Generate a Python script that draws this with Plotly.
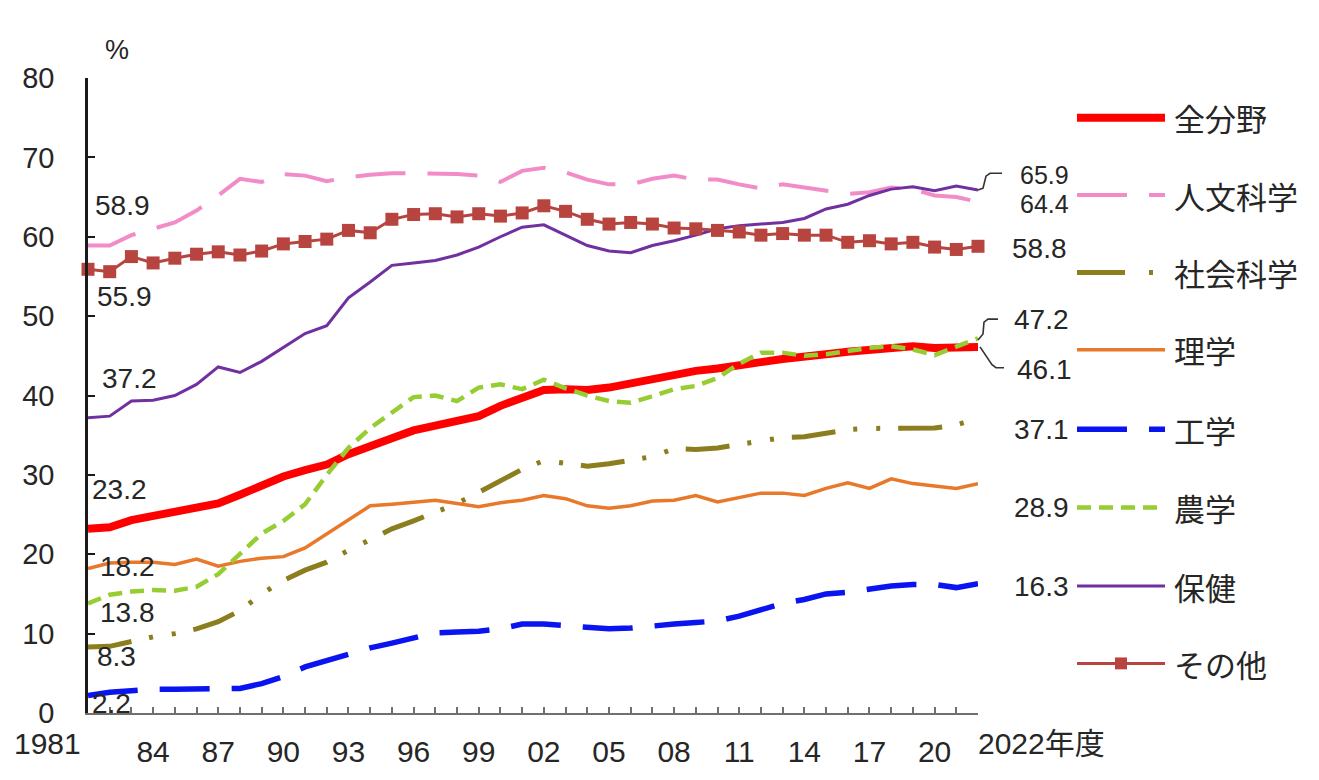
import plotly.graph_objects as go

# ---------------- data ----------------
years = list(range(1981, 2023))

all_fields = [23.2, 23.4, 24.3, 24.8, 25.2, 25.7, 26.4, 27.5, 28.7, 29.8,
              30.6, 31.3, 32.6, 33.7, 34.6, 35.6, 36.2, 36.7, 37.4, 38.7,
              39.8, 40.7, 40.8, 40.7, 41.0, 41.5, 42.2, 42.6, 43.1, 43.4,
              43.9, 44.2, 44.6, 44.8, 45.2, 45.5, 45.8, 46.0, 46.2, 46.0,
              46.1, 46.1]
humanities = [58.9, 58.9, 60.2, 61.0, 61.8, 63.3, 65.2, 67.3, 66.9, 67.9,
              67.7, 67.0, 67.5, 67.8, 68.0, 68.0, 68.0, 67.9, 67.7, 66.9,
              68.3, 68.7, 68.1, 67.2, 66.6, 66.6, 67.3, 67.7, 67.2, 67.2,
              66.6, 66.1, 66.6, 66.2, 65.7, 65.4, 65.6, 66.2, 66.0, 65.2,
              65.0, 64.4]
social = [8.3, 8.4, 9.0, 9.6, 10.0, 10.6, 11.5, 12.9, 15.0, 16.7,
          18.0, 19.0, 20.5, 21.9, 23.2, 24.2, 25.3, 26.4, 27.8, 29.2,
          30.7, 31.8, 31.4, 31.1, 31.4, 31.8, 32.3, 33.3, 33.2, 33.4,
          33.8, 34.2, 34.7, 34.8, 35.2, 35.7, 35.85, 35.9, 36.0, 35.9,
          36.3, 37.1]
science = [18.2, 18.9, 19.0, 19.0, 18.7, 19.4, 18.5, 19.1, 19.5, 19.7,
           20.8, 22.6, 24.3, 26.1, 26.3, 26.5, 26.8, 26.4, 26.0, 26.5,
           26.8, 27.4, 27.0, 26.1, 25.8, 26.1, 26.7, 26.8, 27.4, 26.6,
           27.2, 27.7, 27.7, 27.4, 28.3, 29.0, 28.3, 29.5, 28.9, 28.6,
           28.3, 28.9]
engineering = [2.2, 2.6, 2.8, 3.0, 3.0, 3.0, 3.0, 3.1, 3.7, 4.6,
               5.8, 6.6, 7.3, 8.2, 8.8, 9.4, 10.1, 10.2, 10.3, 10.6,
               11.2, 11.2, 11.0, 10.8, 10.6, 10.7, 11.0, 11.2, 11.4, 11.6,
               12.2, 13.0, 13.8, 14.3, 15.0, 15.2, 15.6, 16.0, 16.2, 16.2,
               15.8, 16.3]
agriculture = [13.8, 14.9, 15.3, 15.5, 15.4, 15.9, 17.5, 20.0, 22.6, 24.2,
               26.3, 30.0, 33.4, 35.9, 37.8, 39.8, 40.0, 39.3, 41.0, 41.4,
               40.8, 42.0, 40.9, 40.0, 39.3, 39.1, 39.9, 40.8, 41.2, 42.2,
               44.0, 45.4, 45.4, 45.0, 45.2, 45.6, 46.0, 46.2, 45.8, 45.1,
               46.2, 47.2]
health = [37.2, 37.4, 39.3, 39.4, 40.0, 41.4, 43.6, 42.9, 44.3, 46.0,
          47.8, 48.8, 52.3, 54.3, 56.4, 56.7, 57.0, 57.7, 58.7, 60.0,
          61.2, 61.5, 60.2, 58.9, 58.2, 58.0, 58.9, 59.5, 60.2, 61.0,
          61.4, 61.6, 61.8, 62.3, 63.5, 64.1, 65.2, 66.0, 66.3, 65.8,
          66.4, 65.9]
others = [55.9, 55.6, 57.5, 56.7, 57.3, 57.8, 58.1, 57.7, 58.2, 59.1,
          59.4, 59.7, 60.8, 60.5, 62.2, 62.8, 62.9, 62.5, 62.9, 62.6,
          63.0, 63.9, 63.2, 62.2, 61.6, 61.8, 61.6, 61.1, 61.0, 60.8,
          60.6, 60.2, 60.4, 60.2, 60.2, 59.3, 59.5, 59.1, 59.3, 58.7,
          58.4, 58.8]

series_names = ["全分野", "人文科学", "社会科学", "理学", "工学", "農学", "保健", "その他"]
series_values = [all_fields, humanities, social, science, engineering,
                 agriculture, health, others]

tick_years = [1981, 1984, 1987, 1990, 1993, 1996, 1999, 2002, 2005, 2008,
              2011, 2014, 2017, 2020, 2022]
tick_labels = ["1981", "84", "87", "90", "93", "96", "99", "02", "05", "08",
               "11", "14", "17", "20", "2022年度"]

# ---------------- styles ----------------
styles = {
    "全分野": dict(color="#FF0000", width=8, dash="solid"),
    "人文科学": dict(color="#F28CC8", width=4, dash="50px,22px"),
    "社会科学": dict(color="#8C7D1E", width=5, dash="44px,18px,4px,19px,4px,18px"),
    "理学": dict(color="#E8782A", width=3.5, dash="solid"),
    "工学": dict(color="#0A14F0", width=5.5, dash="50px,22px"),
    "農学": dict(color="#96CD32", width=4.5, dash="14px,8px"),
    "保健": dict(color="#7030A0", width=3, dash="solid"),
    "その他": dict(color="#B8443F", width=3, dash="solid"),
}
legend_dash = {"社会科学": "48px,24px,4px,40px"}

FONT = "Liberation Sans, Arial, Noto Sans CJK JP, sans-serif"
TXT = "#262626"

OFF = 8                      # page body margin of the html page
W, H = 1319 - OFF, 780 - OFF
L, R, T, B = 88, 978, 78, 718  # plot area in screen px


def px_x(px):
    return (px - L) / (R - L)


def px_y(py):
    return (B - py) / (B - T)


fig = go.Figure()

for name, vals in zip(series_names, series_values):
    st = styles[name]
    kw = dict(x=years, y=vals, name=name, mode="lines", cliponaxis=False,
              line=dict(color=st["color"], width=st["width"], dash=st["dash"]))
    if name == "その他":
        kw["mode"] = "lines+markers"
        kw["marker"] = dict(symbol="square", size=13, color=st["color"])
    fig.add_trace(go.Scatter(**kw))

annotations = []
shapes = []

# left start-value labels (px x start, px y center)
left_labels = [("58.9", 93, 207), ("55.9", 95, 298), ("37.2", 100, 381),
               ("23.2", 90, 493), ("18.2", 98, 570), ("13.8", 98, 617),
               ("8.3", 95, 661), ("2.2", 90, 708)]
for t, x0, yc in left_labels:
    annotations.append(dict(text=t, xref="paper", yref="paper", x=px_x(x0), y=px_y(yc),
                            xanchor="left", yanchor="middle", showarrow=False,
                            font=dict(size=28, color=TXT, family=FONT)))

# right end-value labels (px x right, px y center, size)
right_labels = [("65.9", 1070, 176, 25), ("64.4", 1070, 205, 25), ("58.8", 1068, 250, 28),
                ("47.2", 1070, 321, 28), ("46.1", 1073, 372, 28), ("37.1", 1070, 432, 28),
                ("28.9", 1070, 511, 28), ("16.3", 1070, 590, 28)]
for t, x1, yc, fs in right_labels:
    annotations.append(dict(text=t, xref="paper", yref="paper", x=px_x(x1), y=px_y(yc),
                            xanchor="right", yanchor="middle", showarrow=False,
                            borderpad=0,
                            font=dict(size=fs, color=TXT, family=FONT)))

# brackets
brackets = [
    [(978, 191), (983, 189), (986, 177), (990, 174), (1002, 174)],
    [(978, 342), (983, 336), (984, 324), (988, 321), (998, 321)],
    [(980, 349), (992, 367), (996, 370), (1004, 370)],
]
for pts in brackets:
    path = "M " + " L ".join(f"{px_x(a):.5f},{px_y(b):.5f}" for a, b in pts)
    shapes.append(dict(type="path", xref="paper", yref="paper", path=path,
                       line=dict(color="#333333", width=1.6)))

# legend (manual, long line samples)
leg_y = [118, 196, 274, 352, 432, 511, 590, 668]
for name, yc in zip(series_names, leg_y):
    st = styles[name]
    shapes.append(dict(type="line", xref="paper", yref="paper",
                       x0=px_x(1077), x1=px_x(1165), y0=px_y(yc), y1=px_y(yc),
                       line=dict(color=st["color"], width=st["width"],
                                 dash=legend_dash.get(name, st["dash"]))))
    if name == "その他":
        shapes.append(dict(type="rect", xref="paper", yref="paper",
                           x0=px_x(1115), x1=px_x(1127), y0=px_y(yc + 6), y1=px_y(yc - 6),
                           fillcolor=st["color"], line=dict(width=0)))
    annotations.append(dict(text=name, xref="paper", yref="paper", x=px_x(1172), y=px_y(yc),
                            xanchor="left", yanchor="middle", showarrow=False,
                            font=dict(size=31, color=TXT, family="Noto Sans CJK JP")))

# axis end labels & unit
annotations.append(dict(text=tick_labels[0], xref="x", yref="paper", x=tick_years[0],
                        y=px_y(749), xanchor="right", yanchor="middle", xshift=-5,
                        showarrow=False, font=dict(size=30, color=TXT, family=FONT)))
annotations.append(dict(text=tick_labels[-1], xref="x", yref="paper", x=tick_years[-1],
                        y=px_y(749), xanchor="left", yanchor="middle", xshift=-2,
                        showarrow=False, font=dict(size=30, color=TXT, family=FONT)))
annotations.append(dict(text="%", xref="paper", yref="paper", x=px_x(117), y=px_y(50),
                        xanchor="center", yanchor="middle", showarrow=False,
                        font=dict(size=27, color=TXT, family=FONT)))

fig.update_layout(
    width=W, height=H,
    margin=dict(l=L - OFF, r=W - (R - OFF), t=T - OFF, b=H - (B - OFF), pad=0),
    paper_bgcolor="white", plot_bgcolor="white",
    showlegend=False,
    font=dict(family=FONT, color=TXT, size=28),
    annotations=annotations,
    shapes=shapes,
)
fig.update_xaxes(
    range=[1981, 2022], showgrid=False, zeroline=False,
    showline=True, linecolor="#6F6F6F", linewidth=2,
    tickmode="array", tickvals=tick_years[1:-1], ticktext=tick_labels[1:-1],
    ticks="inside", ticklen=6, tickwidth=1.5, tickcolor="#6F6F6F",
    ticklabelstandoff=11,
    tickfont=dict(size=30, color=TXT, family=FONT),
    minor=dict(tickmode="linear", tick0=1981, dtick=1, ticks="inside",
               ticklen=6, tickwidth=1.5, tickcolor="#6F6F6F"),
)
fig.update_yaxes(
    range=[0, 80], dtick=10, showgrid=False, zeroline=False,
    showline=True, linecolor="#1A1A1A", linewidth=2.5,
    ticks="inside", ticklen=7, tickwidth=2, tickcolor="#1A1A1A",
    ticklabelstandoff=25,
    tickfont=dict(size=29, color=TXT, family=FONT),
)

fig.write_html("out.html")
